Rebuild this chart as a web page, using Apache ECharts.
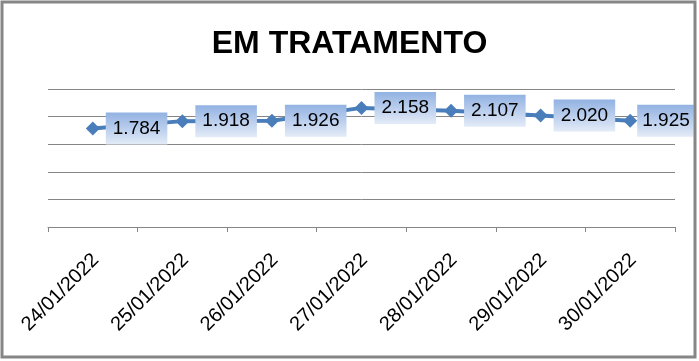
<!DOCTYPE html>
<html>
<head>
<meta charset="utf-8">
<script src="https://cdn.jsdelivr.net/npm/echarts@6/dist/echarts.min.js"></script>
<style>
html,body{margin:0;padding:0;background:#fff;}
#c{width:699px;height:361px;}
</style>
</head>
<body>
<div id="c"></div>
<script>
var categories = ['24/01/2022','25/01/2022','26/01/2022','27/01/2022','28/01/2022','29/01/2022','30/01/2022'];
var values = [1784, 1918, 1926, 2158, 2107, 2020, 1925];
var titleText = 'EM TRATAMENTO';

function fmt(v){ return String(v).replace(/(\d)(?=(\d{3})+$)/g,'$1.'); }

var seriesData = values.map(function(v, i){
  if (i === values.length - 1) {
    return {value: v, label: {distance: 0, padding: [7,4,6,5]}};
  }
  return v;
});

var chart = echarts.init(document.getElementById('c'), null, {renderer:'canvas'});
var FONT = '"Liberation Sans", Arial, sans-serif';
chart.setOption({
  animation:false,
  backgroundColor:'#fff',
  title:{text:titleText,left:'center',top:23,textStyle:{fontFamily:FONT,fontSize:32,fontWeight:'bold',color:'#000'}},
  graphic:[{type:'rect',shape:{x:2,y:2,width:693,height:355},style:{fill:'none',stroke:'#868686',lineWidth:3},silent:true,z:100}],
  grid:[{left:48,right:24,top:89,bottom:134},{left:51,right:21,top:89,bottom:134}],
  xAxis:[{
    type:'category',data:categories,boundaryGap:true,gridIndex:0,
    axisLine:{show:true,lineStyle:{color:'#868686',width:1}},
    axisTick:{show:true,length:5,alignWithLabel:false,lineStyle:{color:'#868686'}},
    axisLabel:{show:false}
  },{
    type:'category',data:categories,boundaryGap:true,gridIndex:1,
    axisLine:{show:false},axisTick:{show:false},
    axisLabel:{show:true,rotate:45,interval:0,margin:30,fontFamily:FONT,fontSize:20,color:'#000'}
  }],
  yAxis:[{
    type:'value',min:0,max:2500,interval:500,gridIndex:0,
    axisLine:{show:false},axisTick:{show:false},axisLabel:{show:false},
    splitLine:{show:true,lineStyle:{color:'#868686',width:1}}
  },{
    type:'value',min:0,max:2500,gridIndex:1,show:false
  }],
  series:[{
    type:'line',data:seriesData,xAxisIndex:0,yAxisIndex:0,
    symbol:'diamond',symbolSize:[14,14],
    lineStyle:{color:'#4A7EBB',width:4},
    itemStyle:{color:'#4A7EBB'},
    label:{
      show:true,position:'right',distance:6,
      formatter:function(p){return fmt(p.value);},
      fontFamily:FONT,fontSize:19,color:'#000',
      padding:[7,7,6,7],
      backgroundColor:new echarts.graphic.LinearGradient(0,0,0,1,[{offset:0,color:'#92B2E2'},{offset:0.5,color:'#BACEED'},{offset:1,color:'#E3EBF7'}])
    }
  }]
});
</script>
</body>
</html>
